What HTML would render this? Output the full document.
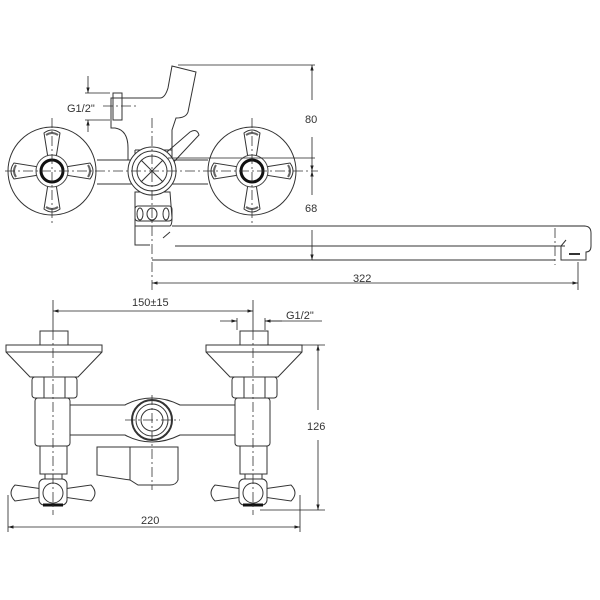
<!DOCTYPE html>
<html><head><meta charset="utf-8"><style>
html,body{margin:0;padding:0;background:#fff;}
svg{display:block;}
text{font-family:"Liberation Sans",sans-serif;font-size:11px;fill:#333;}
</style></head><body>
<svg width="600" height="600" viewBox="0 0 600 600" xmlns="http://www.w3.org/2000/svg">
<defs>
<marker id="a" viewBox="0 0 10 10" refX="10" refY="5" markerWidth="7" markerHeight="7" orient="auto-start-reverse"><path d="M0,2 L10,5 L0,8 Z" fill="#222"/></marker>
<g id="arm"><path d="M-4,-13 L-8,-38 Q0,-44 8,-38 L4,-13 Z" fill="#fff" stroke="#333" stroke-width="1"/><path d="M-6,-36 Q0,-40 6,-36" fill="none" stroke="#666" stroke-width="2"/></g>
<g id="cross">
<circle r="44" fill="none" stroke="#333" stroke-width="1"/>
<use href="#arm"/><use href="#arm" transform="rotate(90)"/><use href="#arm" transform="rotate(180)"/><use href="#arm" transform="rotate(270)"/>
<circle r="16" fill="#fff" stroke="#444" stroke-width="1"/>
<circle r="11" fill="#fff" stroke="#111" stroke-width="3"/>
</g>
<g id="hcross">
<path d="M-10,-4 L-38,-8 Q-46,0 -38,8 L-10,4 Z" fill="#fff" stroke="#333"/>
<path d="M10,-4 L38,-8 Q46,0 38,8 L10,4 Z" fill="#fff" stroke="#333"/>
<rect x="-14" y="-14" width="28" height="26" rx="5" fill="#fff" stroke="#333"/>
<circle r="10" fill="#fff" stroke="#333"/>
<path d="M-10,12 L10,12" stroke="#111" stroke-width="3"/>
</g>
</defs>
<g fill="none" stroke="#333" stroke-width="1">
<path d="M128,160 L128,148 Q128,130 115,128 L111,128 L111,98 L160,98 Q165,98 168,88 L172,66 L196,72 L188,112 Q186,118 176,118 L172,130 L172,150"/>
<rect x="113" y="93" width="9" height="27" />
<path d="M135,150 L172,150 L172,158"/>
<path d="M97,160 L135,160 L135,150 M97,184 L135,184 M170,160 L208,160 M170,184 L208,184"/>
<path d="M135,192 L170,192 L172,218 Q172,225 170,226 L135,226 Z"/>
<rect x="135" y="206" width="37" height="15" rx="3"/>
<ellipse cx="140" cy="214" rx="3" ry="6"/><ellipse cx="152" cy="214" rx="5" ry="6"/><ellipse cx="166" cy="214" rx="3" ry="6"/>
<path d="M160,158 L190,132 Q197,128 199,135 L170,166"/>
<circle cx="152" cy="171" r="24" fill="#fff"/>
<circle cx="152" cy="171" r="20"/>
<circle cx="152" cy="171" r="15"/>
<path d="M141,160 L163,182 M163,160 L141,182"/>
<path d="M172,226 L584,226 Q591,226 591,233 L591,246 Q591,252 586,252 L586,260 L561,260 L561,246 L566,240 M175,246 L565,246 M135,226 L135,245 L150,245 M152,260 L555,260"/>
<path d="M170,232 L163,238"/>
<path d="M569,254 L580,254" stroke-width="2"/>
</g>
<use href="#cross" x="52" y="171"/>
<use href="#cross" x="252" y="171"/>
<g fill="none" stroke="#333" stroke-width="0.8" stroke-dasharray="10,3,2,3">
<path d="M5,171 L318,171 M52,118 L52,225 M252,118 L252,225 M152,118 L152,290 M555,228 L555,265 M103,106 L136,106"/>
</g>
<g fill="none" stroke="#222" stroke-width="0.8">
<path d="M178,65 L315,65 M168,158 L315,158 M560,226 L585,226"/>
<path d="M312,100 L312,65" marker-end="url(#a)"/>
<path d="M312,137 L312,171" marker-end="url(#a)"/>
<path d="M312,195 L312,171" marker-end="url(#a)"/>
<path d="M312,230 L312,260" marker-end="url(#a)"/>
<path d="M312,260 L330,260"/>
<path d="M152,283 L578,283" marker-start="url(#a)" marker-end="url(#a)"/>
<path d="M578,262 L578,290"/>
<path d="M88,76 L88,93" marker-end="url(#a)"/><path d="M88,132 L88,120" marker-end="url(#a)"/>
<path d="M85,93 L110,93 M85,120 L110,120"/>
</g>
<text x="67" y="112">G1/2"</text>
<text x="305" y="123">80</text>
<text x="305" y="212">68</text>
<text x="353" y="282">322</text>

<g fill="#fff" stroke="#333" stroke-width="1">
<path d="M70,405 L125,405 Q138,398 152,398 Q166,398 180,405 L235,405 L235,435 L180,435 Q166,442 152,442 Q138,442 125,435 L70,435 Z"/>
<path d="M97,447 L178,447 L178,480 Q176,485 170,485 L138,485 L130,480 L97,475 Z"/>
<path d="M130,447 L130,480"/>
<g id="valve">
<rect x="40" y="331" width="28" height="14"/>
<path d="M6,345 L102,345 L102,352 L78,377 L30,377 L6,352 Z"/>
<path d="M6,352 L102,352"/>
<rect x="32" y="377" width="45" height="21" rx="3"/>
<path d="M44,377 L44,398 M65,377 L65,398"/>
<rect x="35" y="398" width="35" height="48" rx="3"/>
<rect x="40" y="446" width="27" height="28"/>
<rect x="45" y="474" width="17" height="8"/>
</g>
<use href="#valve" x="200"/>
<circle cx="152" cy="420" r="20" stroke-width="2"/>
<circle cx="152" cy="420" r="16"/>
<circle cx="152" cy="420" r="11"/>
</g>
<use href="#hcross" x="53" y="493"/>
<use href="#hcross" x="253" y="493"/>
<g fill="none" stroke="#333" stroke-width="0.8" stroke-dasharray="10,3,2,3">
<path d="M53,330 L53,515 M253,330 L253,515 M152,395 L152,490 M125,420 L180,420"/>
</g>
<g fill="none" stroke="#222" stroke-width="0.8">
<path d="M53,300 L53,330 M253,300 L253,330 M237,318 L237,330 M265,318 L265,330"/>
<path d="M53,311 L253,311" marker-start="url(#a)" marker-end="url(#a)"/>
<path d="M220,321 L237,321" marker-end="url(#a)"/>
<path d="M282,321 L265,321" marker-end="url(#a)"/>
<path d="M265,321 L322,321"/>
<path d="M260,345 L325,345 M260,510 L325,510"/>
<path d="M318,345 L318,410" marker-start="url(#a)"/>
<path d="M318,440 L318,510" marker-end="url(#a)"/>
<path d="M8,527 L300,527" marker-start="url(#a)" marker-end="url(#a)"/>
<path d="M8,495 L8,532 M300,495 L300,532"/>
</g>
<text x="132" y="306">150±15</text>
<text x="286" y="319">G1/2"</text>
<text x="307" y="430">126</text>
<text x="141" y="524">220</text>
</svg>
</body></html>
